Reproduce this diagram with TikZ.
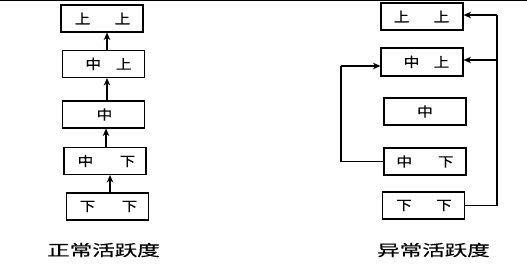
\documentclass[tikz,border=0pt]{standalone}
\usepackage{fontspec}
\newfontfamily\cjkb[FakeStretch=1.15,FakeBold=0.6]{Noto Sans CJK SC}
\newfontfamily\cjkc[FakeStretch=1.45,FakeBold=0.4]{Noto Sans CJK SC}
\usetikzlibrary{arrows.meta}
% two characters: width, horizontal offset, left char, right char
\newcommand{\two}[4]{\hspace{#2}\makebox[#1]{#3\hfill#4}}
\begin{document}
\begin{tikzpicture}[x=1pt,y=-1pt,
  box/.style={draw,line width=1.1pt,minimum width=82pt,minimum height=27pt,inner sep=0pt,
    font=\fontsize{13.5pt}{13.5pt}\selectfont\cjkb},
  captionstyle/.style={font=\fontsize{15.5pt}{16pt}\selectfont\cjkc},
  arr/.style={line width=1.1pt,-{Stealth[length=7.5pt,width=6.5pt]}},
  ln/.style={line width=1.1pt}]
\useasboundingbox (0,0) rectangle (527,267);
\draw[line width=1.5pt] (0,0.5) -- (527,0.5);
% left column
\node[box] (l1) at (102,18.5) {\two{55.5pt}{1pt}{上}{上}};
\node[box] (l2) at (103.5,64) {\two{46pt}{10pt}{中}{上}};
\node[box] (l3) at (103.5,114.5) {\hspace{2pt}中};
\node[box] (l4) at (105,161) {\two{57.5pt}{3pt}{中}{下}};
\node[box] (l5) at (107.5,206.5) {\two{57.5pt}{2pt}{下}{下}};
\draw[arr] (l2.north -| 107,0) -- (l1.south -| 107,0);
\draw[arr] (l3.north -| 107,0) -- (l2.south -| 107,0);
\draw[arr] (l4.north -| 106,0) -- (l3.south -| 106,0);
\draw[arr] (l5.north -| 110,0) -- (l4.south -| 110,0);
\node[captionstyle] (c1) at (103.5,250) {正常活跃度};
% right column
\node[box] (r1) at (422,16.5) {\two{55.5pt}{-1pt}{上}{上}};
\node[box,minimum height=28pt] (r2) at (422,62) {\two{45.5pt}{9pt}{中}{上}};
\node[box] (r3) at (425,111.5) {中};
\node[box] (r4) at (425,161.5) {\two{57pt}{0pt}{中}{下}};
\node[box] (r5) at (423.5,205.5) {\two{55.5pt}{1pt}{下}{下}};
\coordinate (rb) at (497,205.5);
\coordinate (rt) at (497,15);
\coordinate (rm) at (497,60);
\draw[ln] (r5.east |- rb) -- (rb) -- (rt);
\draw[arr] (rt) -- (r1.east |- rt);
\draw[arr] (rm) -- (r2.east |- rm);
\coordinate (lb) at (341,161.5);
\coordinate (lt) at (341,66);
\draw[ln] (r4.west) -- (lb) -- (lt);
\draw[arr] (lt) -- (r2.west |- lt);
\node[captionstyle] (c2) at (433.5,250) {异常活跃度};
\end{tikzpicture}
\end{document}
